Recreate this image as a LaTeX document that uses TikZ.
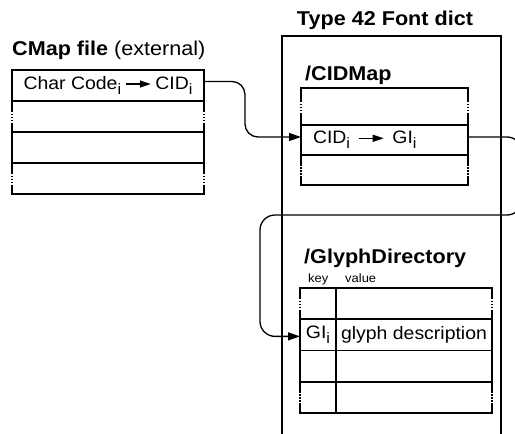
\documentclass[tikz,border=0pt]{standalone}
\usepackage{fontspec}
\setmainfont[FakeStretch=1.08]{Liberation Sans}
\usepackage{tikz}
\usetikzlibrary{arrows.meta, positioning}
\tikzstyle{title} = [font=\fontsize{20}{23}\selectfont\bfseries, inner sep=0pt, anchor=base west]
\tikzstyle{small} = [font=\fontsize{12}{14}\selectfont, inner sep=0pt, anchor=base west]
\tikzstyle{cell} = [rectangle, 
inner sep=0pt, 
outer sep=0pt, 
text centered, 
draw=black, 
line width=1.8pt, 
font=\fontsize{18}{21}\selectfont]
\tikzstyle{cmaprow} = [cell, minimum width=192pt, minimum height=31pt]
\tikzstyle{cidrow} = [cell, minimum width=167pt, minimum height=30pt]
\tikzstyle{keycell} = [cell, minimum width=36pt, minimum height=31.25pt]
\tikzstyle{valcell} = [cell, minimum width=156pt, minimum height=31.25pt]
\tikzstyle{frame} = [line width=1.8pt]
\tikzstyle{arrow} = [line width=1.3pt, -{Triangle[length=12pt, width=8pt]}]
\newcommand{\sbi}{\raisebox{-5pt}{\fontsize{15}{15}\selectfont i}}
\newcommand{\toarrow}{\tikz[baseline=-5.5pt]\draw[line width=1.3pt, -{Triangle[length=11pt, width=7pt]}] (0pt,0pt) -- (25pt,0pt);}
\newcommand{\gapat}[1]{%
  \draw[white, line width=3pt] ([yshift=6pt]#1) -- ([yshift=-6pt]#1);
  \draw[line width=1.8pt, dash pattern=on 1.5pt off 1.5pt] ([yshift=6pt]#1) -- ([yshift=-6pt]#1);}

\begin{document}
\begin{tikzpicture}[x=1pt, y=-1pt]
    \useasboundingbox (0,0) rectangle (515,434);
    \node (cmaptitle) [title] at (12,55) {CMap file \textmd{(external)}};
    \node (dicttitle) [title, anchor=base] at (385,25) {Type 42 Font dict};
    \node (cidtitle) [title] at (305,80) {/CIDMap};
    \node (glyphtitle) [title] at (304,263) {/GlyphDirectory};
    \node (keylbl) [small] at (308,282) {key};
    \node (valuelbl) [small] at (345,282) {value};

    % the font dict, open at the bottom
    \draw [frame] (282,440) |- (501,36) -- (501,440);

    % CMap file
    \node (cm1) [cmaprow, anchor=north west] at (12,70) {Char Code\sbi\hspace{4pt}\toarrow\hspace{4pt}CID\sbi};
    \node (cm2) [cmaprow, below=0pt of cm1] {};
    \node (cm3) [cmaprow, below=0pt of cm2] {};
    \node (cm4) [cmaprow, below=0pt of cm3] {};

    % CIDMap
    \node (cid1) [cidrow, minimum height=37pt, anchor=north west] at (301,88) {};
    \node (cid2) [cidrow, below=0pt of cid1, inner xsep=12pt, text width=143pt, align=left] {CID\sbi\hspace{8pt}\toarrow\hspace{8pt}GI\sbi};
    \node (cid3) [cidrow, below=0pt of cid2] {};

    % GlyphDirectory
    \node (gk1) [keycell, anchor=north west] at (300,288) {};
    \node (gv1) [valcell, right=0pt of gk1] {};
    \node (gk2) [keycell, below=0pt of gk1] {GI\sbi};
    \node (gv2) [valcell, right=0pt of gk2] {glyph description};
    \node (gk3) [keycell, below=0pt of gk2] {};
    \node (gv3) [valcell, right=0pt of gk3] {};
    \node (gk4) [keycell, below=0pt of gk3] {};
    \node (gv4) [valcell, right=0pt of gk4] {};

    % continued rows
    \gapat{cm2.west} \gapat{cm2.east}
    \gapat{cm4.west} \gapat{cm4.east}
    \gapat{cid1.west} \gapat{cid1.east}
    \gapat{cid3.west} \gapat{cid3.east}
    \gapat{gk1.west} \gapat{gv1.east}
    \gapat{gk4.west} \gapat{gv4.east}

    \coordinate (bend1) at (245,110);
    \coordinate (turnR) at (522,215);
    \coordinate (turnL) at (260,215);
    \draw [arrow, rounded corners=13pt] ([yshift=4pt]cm1.east) -| (bend1) |- ([yshift=3pt]cid2.west);
    \draw [arrow, rounded corners=15pt] ([yshift=3pt]cid2.east) -| (turnR) -- (turnL) |- ([yshift=-1.5pt]gk2.west);
\end{tikzpicture}
\end{document}
